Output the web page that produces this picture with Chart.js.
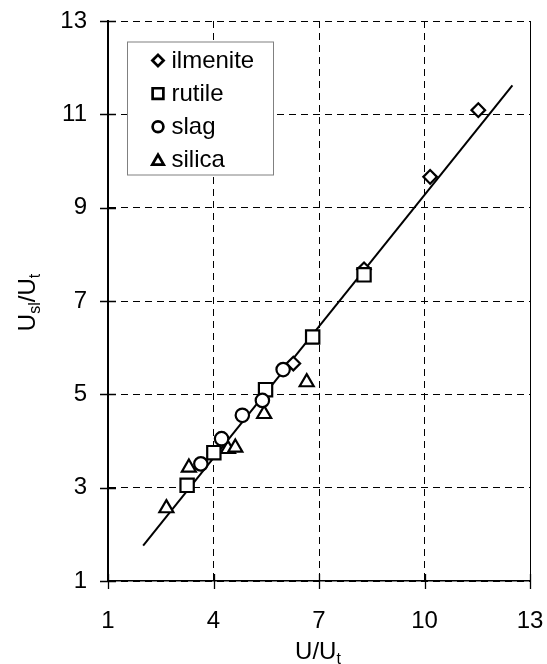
<!DOCTYPE html>
<html>
<head>
<meta charset="utf-8">
<script src="https://cdn.jsdelivr.net/npm/chart.js@4/dist/chart.umd.min.js"></script>
<style>
  html, body { margin: 0; padding: 0; background: #fff; }
  canvas { display: block; }
</style>
</head>
<body>
<canvas id="chart" width="547" height="664"></canvas>
<script>
// Dimensionless slip velocity Usl/Ut against U/Ut for four particle types
const ilmeniteX = [6.27, 8.28, 10.16, 11.53];
const ilmeniteY = [5.66, 7.68, 9.66, 11.09];

const rutileX = [3.25, 4.01, 5.48, 6.82, 8.28];
const rutileY = [3.05, 3.75, 5.10, 6.23, 7.56];

const slagX = [3.64, 4.23, 4.82, 5.39, 5.98];
const slagY = [3.51, 4.05, 4.55, 4.87, 5.53];

const silicaX = [2.66, 3.30, 4.41, 4.62, 5.44, 6.65];
const silicaY = [2.56, 3.43, 3.83, 3.86, 4.58, 5.26];

// correlation line end points
const fitX = [2.0, 12.5];
const fitY = [1.76, 11.62];

const xTicks = [1, 4, 7, 10, 13];
const yTicks = [1, 3, 5, 7, 9, 11, 13];

const FONT = '"Liberation Sans", Arial, Helvetica, sans-serif';

function pts(xs, ys) { return xs.map((x, i) => ({ x: x, y: ys[i] })); }

function marker(style, radius, keyRadius) {
  return {
    pointStyle: style,
    pointRadius: radius,
    pointHoverRadius: radius,
    pointBackgroundColor: '#fff',
    pointBorderColor: '#000',
    pointBorderWidth: 2.2,
    showLine: false,
    keyRadius: keyRadius
  };
}

// hollow black markers in the key box, top-left of the plot
const keyPlugin = {
  id: 'keyBox',
  afterDatasetsDraw(chart) {
    const ctx = chart.ctx;
    const a = chart.chartArea;
    const bx = a.left + 19.5, by = a.top + 21, bw = 146, bh = 133;
    ctx.save();
    ctx.fillStyle = '#fff';
    ctx.fillRect(bx, by, bw, bh);
    ctx.strokeStyle = '#808080';
    ctx.lineWidth = 1;
    ctx.strokeRect(bx, by, bw, bh);
    ctx.font = '24px ' + FONT;
    ctx.textBaseline = 'middle';
    ctx.textAlign = 'left';
    [0, 1, 2, 3].forEach((di, i) => {
      const ds = chart.data.datasets[di];
      const cy = by + 18.5 + i * 33.1;
      const mx = bx + 30.5;
      ctx.fillStyle = '#fff';
      ctx.strokeStyle = '#000';
      ctx.lineWidth = 2.7;
      Chart.helpers.drawPoint(ctx, {
        pointStyle: ds.pointStyle,
        radius: ds.keyRadius,
        rotation: 0,
        borderWidth: 2.7
      }, mx, cy + (ds.pointStyle === 'triangle' ? 1.5 : 0));
      ctx.fillStyle = '#000';
      ctx.fillText(ds.label, bx + 44, cy + 1);
    });
    ctx.restore();
  }
};

// tick marks crossing the axes, the solid right frame line, and axis titles
const framePlugin = {
  id: 'frame',
  afterDraw(chart) {
    const ctx = chart.ctx;
    const a = chart.chartArea;
    const xs = chart.scales.x, ys = chart.scales.y;
    ctx.save();
    ctx.strokeStyle = '#000';
    ctx.lineWidth = 1;
    ctx.beginPath();
    ctx.moveTo(a.right + 0.5, a.top);
    ctx.lineTo(a.right + 0.5, a.bottom);
    ctx.stroke();

    ctx.lineWidth = 1.3;
    ctx.beginPath();
    xTicks.forEach(v => {
      const px = Math.round(xs.getPixelForValue(v)) + 0.5;
      ctx.moveTo(px, a.bottom - 7);
      ctx.lineTo(px, a.bottom + 8);
    });
    yTicks.forEach(v => {
      const py = Math.round(ys.getPixelForValue(v)) + 0.5;
      ctx.moveTo(a.left - 8, py);
      ctx.lineTo(a.left + 8, py);
    });
    ctx.stroke();

    ctx.fillStyle = '#000';
    ctx.textBaseline = 'alphabetic';
    ctx.textAlign = 'left';
    const big = '24px ' + FONT, small = '16px ' + FONT;
    function rich(parts, cx, baseY) {
      let w = 0;
      parts.forEach(p => { ctx.font = p.sub ? small : big; w += ctx.measureText(p.t).width; });
      let x = cx - w / 2;
      parts.forEach(p => {
        ctx.font = p.sub ? small : big;
        ctx.fillText(p.t, x, baseY + (p.sub ? 5 : 0));
        x += ctx.measureText(p.t).width;
      });
    }
    // x-axis title
    rich([{ t: 'U/U' }, { t: 't', sub: true }], (a.left + a.right) / 2 - 1, 659);
    // y-axis title, rotated
    ctx.save();
    ctx.translate(35, (a.top + a.bottom) / 2 + 1.5);
    ctx.rotate(-Math.PI / 2);
    rich([{ t: 'U' }, { t: 'sl', sub: true }, { t: '/U' }, { t: 't', sub: true }], 0, 0);
    ctx.restore();
    ctx.restore();
  }
};

function noOverflow(s) {
  s.paddingLeft = 0; s.paddingRight = 0; s.paddingTop = 0; s.paddingBottom = 0;
}

new Chart(document.getElementById('chart'), {
  type: 'scatter',
  data: {
    datasets: [
      Object.assign({ label: 'ilmenite', data: pts(ilmeniteX, ilmeniteY), order: 3 }, marker('rectRot', 6.8, 5.6)),
      Object.assign({ label: 'rutile', data: pts(rutileX, rutileY), order: 2 }, marker('rect', 9.4, 7.6)),
      Object.assign({ label: 'slag', data: pts(slagX, slagY), order: 1 }, marker('circle', 6.7, 5.4)),
      Object.assign({ label: 'silica', data: pts(silicaX, silicaY), order: 4 }, marker('triangle', 8.1, 6.6)),
      {
        label: 'fit',
        data: pts(fitX, fitY),
        showLine: true,
        pointRadius: 0,
        pointHoverRadius: 0,
        borderColor: '#000',
        borderWidth: 2,
        fill: false,
        order: 5
      }
    ]
  },
  options: {
    responsive: false,
    animation: false,
    devicePixelRatio: 1,
    layout: { padding: { left: 0, right: 17, top: 21, bottom: 0 } },
    plugins: {
      legend: { display: false },
      tooltip: { enabled: false }
    },
    scales: {
      x: {
        type: 'linear',
        min: 1, max: 13,
        afterBuildTicks: s => { s.ticks = xTicks.map(v => ({ value: v })); },
        afterFit: s => { s.height = 83; noOverflow(s); },
        ticks: { color: '#000', font: { family: FONT, size: 24 }, padding: 26, maxRotation: 0 },
        grid: { color: '#000', lineWidth: 1, drawTicks: false },
        border: { display: true, color: '#000', width: 1.5, dash: [7, 5] }
      },
      y: {
        type: 'linear',
        min: 1, max: 13,
        afterBuildTicks: s => { s.ticks = yTicks.map(v => ({ value: v })); },
        afterFit: s => { s.width = 108; noOverflow(s); },
        ticks: { color: '#000', font: { family: FONT, size: 24 }, padding: 21 },
        grid: { color: '#000', lineWidth: 1, drawTicks: false },
        border: { display: true, color: '#000', width: 2, dash: [7, 5] }
      }
    }
  },
  plugins: [keyPlugin, framePlugin]
});
</script>
</body>
</html>
